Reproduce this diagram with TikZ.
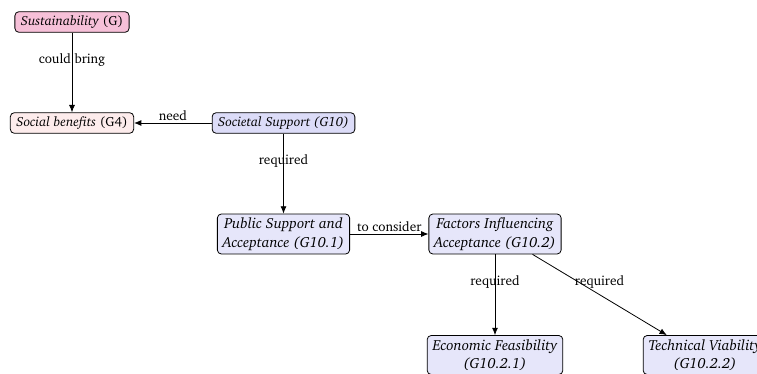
\documentclass[tikz,border=0pt]{standalone}
\usepackage[T1]{fontenc}
\usepackage{charter}
\usetikzlibrary{arrows.meta}
\definecolor{goalpink}{HTML}{F6C0D8}
\definecolor{benefitpink}{HTML}{FDECEC}
\definecolor{supportblue}{HTML}{DCDCF8}
\definecolor{subblue}{HTML}{E6E6FA}
\tikzset{
  goalbox/.style={draw, rounded corners=3pt, line width=0.6pt, align=center,
    inner xsep=4.5pt, inner ysep=3pt, font=\fontsize{10}{14.5}\selectfont},
  subgoal/.style={goalbox, fill=subblue, inner xsep=4pt, inner ysep=2.8pt,
    font=\fontsize{11}{14}\selectfont},
  link/.style={-{Latex[length=5.5pt,width=4.5pt]}, line width=0.6pt},
  lbl/.style={font=\fontsize{10}{12}\selectfont, inner sep=1.5pt}
}
\begin{document}
\begin{tikzpicture}[x=0.75pt,y=-0.75pt]
\useasboundingbox (0,0) rectangle (757,374);
\node[goalbox, fill=goalpink] (sus) at (72,22) {\textit{Sustainability} (G)};
\node[goalbox, fill=benefitpink] (soc) at (72,123) {\textit{Social benefits} (G4)};
\node[goalbox, fill=supportblue] (sup) at (283.5,123) {\textit{Societal Support (G10)}};
\node[subgoal] (pub) at (283.5,234) {\textit{Public Support and}\\\textit{Acceptance (G10.1)}};
\node[subgoal] (fac) at (495,234) {\textit{Factors Influencing}\\\textit{Acceptance (G10.2)}};
\node[subgoal] (eco) at (495,355) {\textit{Economic Feasibility}\\\textit{(G10.2.1)}};
\node[subgoal] (tec) at (705,355) {\textit{Technical Viability}\\\textit{(G10.2.2)}};

% end points of the slanted connector
\path (fac.south east) ++(-29,0) coordinate (facout);
\path (tec.north west) ++(24,0) coordinate (tecin);

\draw[link] (sus) -- node[lbl, pos=0.34] {could bring} (soc);
\draw[link] (sup) -- node[lbl, above, pos=0.5] {need} (soc);
\draw[link] (sup) -- node[lbl, pos=0.34] {required} (pub);
\draw[link] (pub) -- node[lbl, above] {to consider} (fac);
\draw[link] (fac) -- node[lbl, pos=0.34] {required} (eco);
\draw[link] (facout) -- node[lbl, pos=0.34, xshift=16pt] {required} (tecin);
\end{tikzpicture}
\end{document}
